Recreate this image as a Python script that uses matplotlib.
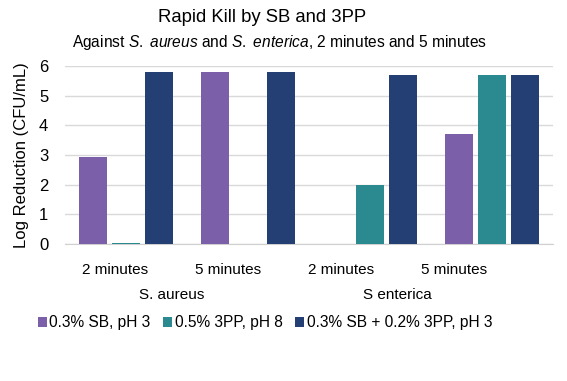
import matplotlib
matplotlib.use("Agg")
import matplotlib.pyplot as plt
import matplotlib.transforms as mtransforms
import numpy as np

plt.rcParams['font.family'] = ['Liberation Sans', 'DejaVu Sans']
plt.rcParams['mathtext.fontset'] = 'custom'
plt.rcParams['mathtext.rm'] = 'Liberation Sans'
plt.rcParams['mathtext.it'] = 'Liberation Sans:italic'

times = ["2 minutes", "5 minutes", "2 minutes", "5 minutes"]
organisms = ["S. aureus", "S enterica"]
series_names = ["0.3% SB, pH 3", "0.5% 3PP, pH 8", "0.3% SB + 0.2% 3PP, pH 3"]
sb = [2.93, 5.8, 0.01, 3.7]
pp = [0.04, 0.01, 2.0, 5.7]
combo = [5.8, 5.8, 5.7, 5.7]
colors = ["#7B60A9", "#2A8A90", "#243F73"]

fig = plt.figure(figsize=(5.67, 3.81), dpi=100)
ax = fig.add_axes([65/567, 1-244/381, (553-65)/567, (244-66)/381])

x = np.arange(len(times))
w = 0.225
offs = [-0.27, 0.0, 0.27]
handles = []
for vals, c, o, name in zip([sb, pp, combo], colors, offs, series_names):
    h = ax.bar(x + o, vals, width=w, color=c, label=name, zorder=3)
    handles.append(h)

ax.set_xlim(-0.5, 3.5)
ax.set_ylim(0, 6)
ax.set_yticks(range(0, 7))
ax.yaxis.grid(True, color="#D9D9D9", lw=1, zorder=0)
for s in ["top", "right", "left"]:
    ax.spines[s].set_visible(False)
ax.spines["bottom"].set_color("#D0D0D0")
ax.tick_params(axis="y", length=0, labelsize=12, pad=12)
ax.tick_params(axis="x", length=0, labelsize=11, pad=14)
label_pos = x * 0.926 - 0.09
ax.set_xticks(label_pos)
ax.set_xticklabels(times)
ax.set_ylabel("Log Reduction (CFU/mL)", fontsize=12, labelpad=7)

trans = mtransforms.blended_transform_factory(ax.transData, fig.transFigure)
for i, org in enumerate(organisms):
    xc = (label_pos[2*i] + label_pos[2*i+1]) / 2
    ax.text(xc, 1-295/381, org, transform=trans, ha="center", va="center", fontsize=11)

fig.text(262/567, 1-18/381, "Rapid Kill by SB and 3PP", ha="center", va="center", fontsize=13.3)
fig.text(280/567, 1-43/381,
         r"Against $\mathit{S.\ aureus}$ and $\mathit{S.\ enterica}$, 2 minutes and 5 minutes",
         ha="center", va="center", fontsize=11.2)

fig.legend(handles=handles, loc="center", bbox_to_anchor=(265/567, 1-323/381), ncol=3,
           frameon=False, fontsize=11.2, handlelength=0.6, handleheight=0.6,
           handletextpad=0.15, columnspacing=0.8)

fig.savefig("out.png", dpi=100)
